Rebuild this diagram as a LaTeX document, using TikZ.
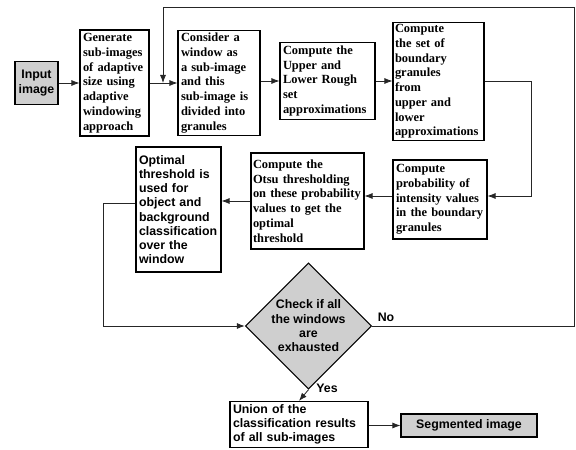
\documentclass[tikz,border=0pt]{standalone}
\usepackage{fontspec}
\setmainfont{Liberation Serif}
\setsansfont{Liberation Sans}
\usetikzlibrary{arrows.meta,shapes.geometric}
\tikzset{
  box/.style={draw=black, line width=1.1bp, fill=white, inner sep=3bp, align=left,
    font=\fontsize{12.5}{14.8}\selectfont\bfseries, anchor=center,
    execute at begin node={\hyphenpenalty=10000\exhyphenpenalty=10000\hbadness=10000\hfuzz=20pt}},
  sbox/.style={box, font=\sffamily\fontsize{12.4}{14.3}\selectfont\bfseries},
  gbox/.style={sbox, fill=gray!38, align=center},
  arr/.style={draw=black!85, line width=0.8bp, -{Latex[length=8bp,width=6bp]}},
  lbl/.style={font=\sffamily\fontsize{12.4}{14}\selectfont\bfseries, inner sep=0pt}
}
\begin{document}
\begin{tikzpicture}[x=1bp,y=-1bp]
\useasboundingbox (0,0) rectangle (576,450);
\node[gbox, minimum width=43bp, minimum height=43bp, inner sep=1bp] (input) at (36.5,83) {Input\\image};
\node[box, text width=63bp, minimum height=106bp] (gen) at (114.5,83) {Generate\\sub-images\\of adaptive\\size using\\adaptive\\windowing\\approach};
\node[box, text width=76bp, minimum height=102bp] (cons) at (219,83) {Consider a\\window as\\a sub-image\\and this\\sub-image is\\divided into\\granules};
\node[box, text width=89bp, minimum height=75bp] (upper) at (327.5,81) {Compute the\\Upper and\\Lower Rough\\set\\approximations};
\node[box, text width=87bp, minimum height=117bp, inner sep=2bp] (bset) at (438.5,81.5) {Compute\\the set of\\boundary\\granules\\from\\upper and\\lower\\approximations};
\node[box, text width=88bp, minimum height=79bp] (prob) at (440,199.5) {Compute\\probability of\\intensity values\\in the boundary\\granules};
\node[box, text width=109bp, minimum height=96bp, inner sep=2bp] (otsu) at (307.5,201) {Compute the\\Otsu thresholding\\on these probability\\values to get the\\optimal\\threshold};
\node[sbox, text width=79bp, minimum height=125bp] (opt) at (178.5,209.5) {Optimal\\threshold is\\used for\\object and\\background\\classification\\over the\\window};
\node[diamond, draw=black, line width=1.1bp, fill=gray!38, minimum width=123bp, minimum height=112bp, inner sep=0pt, align=center,
  font=\sffamily\fontsize{12.4}{14.4}\selectfont\bfseries] (dia) at (308.5,326) {Check if all\\the windows\\are\\exhausted};
\node[sbox, text width=132bp, minimum height=42bp, inner sep=3bp] (union) at (299,424.5) {Union of the\\classification results\\of all sub-images};
\node[gbox, minimum width=136bp, minimum height=23bp, inner sep=1bp] (seg) at (469,425.5) {Segmented image};
\node[lbl] (no) at (386,317) {No};
\node[lbl] (yes) at (327,388) {Yes};
\coordinate (pa) at (531,196);
\coordinate (c1) at (103,203);
\coordinate (r1) at (574.5,7);
\coordinate (l1) at (163,7);
\draw[arr] (input) -- (gen);
\draw[arr] (gen) -- (cons);
\draw[arr] (cons.east |- upper.west) -- (upper.west);
\draw[arr] (upper.east) -- (bset.west |- upper.east);
\draw[arr] (bset.east) -| (pa) -- (prob.east |- pa);
\draw[arr] (prob.west |- pa) -- (otsu.east |- pa);
\draw[arr] (otsu.west) -- (opt.east |- otsu.west);
\draw[arr] (opt.west |- c1) -- (c1) |- (dia.west);
\draw[arr] (dia.east) -| (r1) -- (l1) -- (l1 |- gen.east);
\draw[arr] (dia.south) -- (union.north);
\draw[arr] (union.east |- seg.west) -- (seg.west);
\end{tikzpicture}
\end{document}
